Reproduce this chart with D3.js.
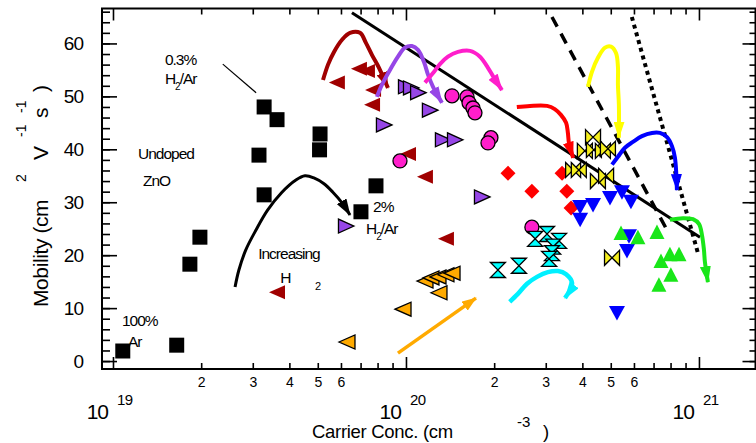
<!DOCTYPE html>
<html>
<head>
<meta charset="utf-8">
<script src="https://cdnjs.cloudflare.com/ajax/libs/d3/7.8.5/d3.min.js"></script>
<style>
  body { margin: 0; background: #fff; }
  svg { display: block; font-family: "Liberation Sans", Arial, sans-serif; }
</style>
</head>
<body>
<div id="chart"></div>
<script>
// Sample sets: [carrier concentration (cm^-3), mobility (cm^2 V^-1 s^-1)]
const undopedZnO = [[1.08e19, 1.9], [1.65e19, 3.0], [1.83e19, 18.3], [1.98e19, 23.4], [3.28e19, 31.4], [3.15e19, 38.9],
    [3.28e19, 48.0], [3.63e19, 45.6], [5.09e19, 42.9], [5.07e19, 39.9], [7.90e19, 33.1], [7.02e19, 28.2]];
const darkRedSet = [[5.81e19, 52.6], [6.91e19, 55.2], [7.36e19, 54.8], [7.72e19, 51.2], [7.66e19, 48.4], [1.016e20, 39.1],
    [1.161e20, 34.8], [1.369e20, 23.1], [3.63e19, 13.0]];
const purpleSet = [[1.00e20, 51.8], [1.04e20, 51.6], [1.10e20, 50.7], [1.207e20, 47.4], [8.41e19, 44.6], [1.337e20, 41.8],
    [1.47e20, 41.8], [1.817e20, 31.0], [6.24e19, 25.5]];
const magentaSet = [[1.436e20, 50.1], [1.616e20, 49.9], [1.641e20, 48.8], [1.693e20, 47.8], [1.72e20, 46.9], [1.95e20, 42.2],
    [1.905e20, 41.2], [9.54e19, 37.8], [2.69e20, 25.3]];
const redSet = [[2.23e20, 35.5], [2.69e20, 32.1], [3.41e20, 35.5], [3.54e20, 32.1], [3.66e20, 28.9]];
const yellowSet = [[4.35e20, 42.3], [4.08e20, 39.7], [4.38e20, 39.9], [4.70e20, 39.7], [4.89e20, 40.1], [3.72e20, 36.1],
    [3.89e20, 36.1], [4.52e20, 34.0], [4.82e20, 35.0], [5.05e20, 19.5]];
const blueSet = [[3.93e20, 29.1], [4.35e20, 29.5], [4.97e20, 30.8], [5.46e20, 31.9], [5.86e20, 30.1], [3.93e20, 26.7],
    [5.77e20, 23.6], [5.68e20, 20.8], [5.25e20, 9.1]];
const greenSet = [[5.42e20, 24.2], [6.19e20, 23.4], [7.19e20, 24.4], [7.42e20, 18.9], [7.96e20, 20.2], [8.55e20, 20.2],
    [8.02e20, 16.3], [7.30e20, 14.4]];
const cyanSet = [[2.06e20, 17.2], [2.43e20, 18.0], [2.76e20, 23.1], [3.03e20, 24.0], [3.33e20, 22.7], [3.18e20, 21.6],
    [3.15e20, 20.4], [3.08e20, 19.3]];
const orangeSet = [[6.29e19, 3.6], [9.77e19, 9.8], [1.161e20, 15.1], [1.217e20, 15.7], [1.286e20, 15.9], [1.369e20, 16.3],
    [1.436e20, 16.6], [1.296e20, 12.9]];

// Hand drawn trend arrows (increasing H2), same units
const arcBlack = [[2.61e19, 14.0], [2.69e19, 17.2], [2.84e19, 21.0], [3.08e19, 24.8], [3.37e19, 28.5], [3.76e19, 31.8],
    [4.21e19, 34.2], [4.52e19, 35.0], [4.85e19, 34.6], [5.25e19, 33.5], [5.63e19, 31.9], [6.05e19, 29.9], [6.44e19, 27.6]];
const arcDarkRed = [[5.21e19, 53.1], [5.42e19, 56.0], [5.68e19, 58.4], [6.05e19, 60.7], [6.44e19, 62.0], [6.97e19, 62.0],
    [7.30e19, 60.1], [7.66e19, 57.8], [8.09e19, 55.4], [8.68e19, 51.6]];
const arcPurple = [[7.96e19, 49.9], [8.28e19, 52.2], [8.82e19, 55.0], [9.39e19, 57.5], [9.92e19, 59.2], [1.048e20, 59.5],
    [1.099e20, 58.8], [1.152e20, 56.5], [1.189e20, 54.1], [1.237e20, 51.8], [1.327e20, 48.8]];
const arcMagenta = [[1.161e20, 52.6], [1.237e20, 54.4], [1.306e20, 56.1], [1.391e20, 57.5], [1.505e20, 58.4], [1.654e20, 58.6],
    [1.789e20, 57.5], [1.905e20, 55.4], [1.997e20, 53.5], [2.126e20, 51.2]];
const arcRed = [[2.39e20, 48.0], [2.65e20, 48.2], [3.03e20, 48.2], [3.22e20, 47.6], [3.38e20, 46.5], [3.52e20, 45.0],
    [3.57e20, 43.1], [3.60e20, 41.2], [3.72e20, 38.4]];
const arcYellow = [[4.18e20, 51.8], [4.31e20, 54.6], [4.52e20, 57.3], [4.78e20, 59.2], [5.01e20, 59.4], [5.21e20, 58.2],
    [5.29e20, 55.6], [5.29e20, 52.2], [5.33e20, 48.4], [5.33e20, 42.2]];
const arcBlue = [[5.05e20, 37.1], [5.29e20, 38.6], [5.59e20, 40.3], [5.95e20, 41.4], [6.39e20, 42.5], [6.91e20, 43.1],
    [7.36e20, 43.1], [7.78e20, 42.3], [8.09e20, 40.6], [8.28e20, 38.4], [8.41e20, 32.3]];
const arcGreen = [[7.96e20, 26.7], [8.82e20, 27.0], [9.54e20, 26.8], [1.0e21, 25.9], [1.024e21, 23.8], [1.040e21, 21.0],
    [1.048e21, 18.7], [1.073e21, 14.9]];
const arcCyan = [[2.26e20, 11.2], [2.41e20, 12.7], [2.59e20, 14.6], [2.80e20, 15.9], [3.05e20, 16.8], [3.30e20, 17.0],
    [3.52e20, 16.4], [3.69e20, 14.7], [3.49e20, 11.9]];
const arrowOrange = [[9.39e19, 1.5], [1.733e20, 11.9]];

// Straight guide lines
const lineSolid = [[6.54e19, 65.8], [1.008e21, 23.4]];
const lineDashed = [[3.15e20, 65.0], [7.84e20, 24.4]];
const lineDotted = [[5.90e20, 65.0], [9.92e20, 20.4]];
const pointerLine = [[2.37e19, 56.1], [3.08e19, 50.7]];

// Axis ticks
const yMajorTicks = [0, 10, 20, 30, 40, 50, 60];
const yMinorTicks = d3.range(0, 67, 2);
const xMajorTicks = [1e19, 1e20, 1e21];
const xExponents = ['19', '20', '21'];
const xMinorMultipliers = [2, 3, 4, 5, 6, 7, 8, 9];
const xLabelledMultipliers = [2, 3, 4, 5, 6];

function init_chart() {
    const width = 756;
    const height = 443;
    const left = 102, right = 755.5, top = 8.5, bottom = 369;

    const x = d3.scaleLog()
        .domain([Math.pow(10, 18.9625), Math.pow(10, 21.193)])
        .range([left, right]);
    const y = d3.scaleLinear()
        .domain([-1.5, 66.6])
        .range([bottom, top]);

    const svg = d3.select('#chart').append('svg')
        .attr('width', width)
        .attr('height', height);

    // Arrow heads, one per colour
    const defs = svg.append('defs');
    function arrowHead(id, color, len, wid) {
        defs.append('marker')
            .attr('id', id)
            .attr('markerUnits', 'userSpaceOnUse')
            .attr('markerWidth', len)
            .attr('markerHeight', wid)
            .attr('refX', len - 1)
            .attr('refY', wid / 2)
            .attr('orient', 'auto')
            .append('path')
            .attr('d', `M0,0L${len},${wid / 2}L0,${wid}Z`)
            .attr('fill', color);
    }

    // Minor x ticks for every decade in view
    const xMinor = [];
    xMajorTicks.forEach(dec => xMinorMultipliers.forEach(m => {
        const v = m * dec;
        if (v < x.domain()[1]) xMinor.push(v);
    }));
    const multiplier = d => Math.round(d / Math.pow(10, Math.floor(Math.log10(d) + 1e-9)));

    // Bottom axis
    svg.append('g')
        .attr('transform', `translate(0, ${bottom})`)
        .call(d3.axisBottom(x).tickValues(xMinor).tickSize(-6).tickPadding(8)
            .tickFormat(d => xLabelledMultipliers.includes(multiplier(d)) ? multiplier(d) : ''));
    svg.append('g')
        .attr('transform', `translate(0, ${bottom})`)
        .call(d3.axisBottom(x).tickValues(xMajorTicks).tickSize(-12).tickFormat(''));
    // Top axis
    svg.append('g')
        .attr('transform', `translate(0, ${top})`)
        .call(d3.axisTop(x).tickValues(xMinor).tickSize(-6).tickFormat(''));
    svg.append('g')
        .attr('transform', `translate(0, ${top})`)
        .call(d3.axisTop(x).tickValues(xMajorTicks).tickSize(-12).tickFormat(''));
    // Left axis
    svg.append('g')
        .attr('transform', `translate(${left}, 0)`)
        .call(d3.axisLeft(y).tickValues(yMinorTicks).tickSize(-8).tickFormat(''));
    svg.append('g')
        .attr('class', 'ylab')
        .attr('transform', `translate(${left}, 0)`)
        .call(d3.axisLeft(y).tickValues(yMajorTicks).tickSize(-15).tickPadding(19));
    // Right axis
    svg.append('g')
        .attr('transform', `translate(${right}, 0)`)
        .call(d3.axisRight(y).tickValues(yMinorTicks).tickSize(-6).tickFormat(''));
    svg.append('g')
        .attr('transform', `translate(${right}, 0)`)
        .call(d3.axisRight(y).tickValues(yMajorTicks).tickSize(-13).tickFormat(''));

    svg.selectAll('.domain').remove();
    svg.selectAll('.tick line').attr('stroke', '#000').attr('stroke-width', 1.6);
    svg.selectAll('.tick text')
        .attr('fill', '#000')
        .style('font-family', '"Liberation Sans", Arial, sans-serif')
        .style('font-size', '14px');
    svg.selectAll('.ylab .tick text')
        .style('font-size', '19px')
        .style('letter-spacing', '-1px');

    // Frame
    svg.append('rect')
        .attr('x', left).attr('y', top)
        .attr('width', right - left).attr('height', bottom - top)
        .attr('fill', 'none').attr('stroke', '#000').attr('stroke-width', 2);

    // Decade labels 10^19, 10^20, 10^21
    xMajorTicks.forEach((v, i) => {
        svg.append('text')
            .attr('x', x(v) - 5).attr('y', 419)
            .attr('text-anchor', 'end')
            .style('font-size', '21px').style('letter-spacing', '-1px')
            .text('10');
        svg.append('text')
            .attr('x', x(v) + 4).attr('y', 405)
            .style('font-size', '15px').style('letter-spacing', '-0.5px')
            .text(xExponents[i]);
    });

    // Axis titles
    svg.append('text').attr('x', 312).attr('y', 438)
        .style('font-size', '18.5px').style('letter-spacing', '-0.3px')
        .text('Carrier Conc. (cm');
    svg.append('text').attr('x', 517).attr('y', 427)
        .style('font-size', '15px').text('-3');
    svg.append('text').attr('x', 543).attr('y', 438)
        .style('font-size', '18.5px').text(')');

    const yTitle = [
        { t: 'Mobility (cm', at: 307, sup: false },
        { t: '2', at: 182, sup: true },
        { t: 'V', at: 160, sup: false },
        { t: '-1', at: 137, sup: true },
        { t: 's', at: 118, sup: false },
        { t: '-1', at: 113, sup: true },
        { t: ')', at: 92, sup: false }
    ];
    yTitle.forEach(p => {
        svg.append('text')
            .attr('transform', `translate(${p.sup ? 26 : 48}, ${p.at}) rotate(-90)`)
            .style('font-size', p.sup ? '14px' : '21px')
            .style('letter-spacing', p.sup ? '0px' : '-0.4px')
            .text(p.t);
    });

    const line = d3.line().x(d => x(d[0])).y(d => y(d[1]));
    const curve = d3.line().x(d => x(d[0])).y(d => y(d[1])).curve(d3.curveCatmullRom.alpha(0.5));

    // Guide lines
    svg.append('path').attr('d', line(lineSolid))
        .attr('fill', 'none').attr('stroke', '#000').attr('stroke-width', 3);
    svg.append('path').attr('d', line(lineDashed))
        .attr('fill', 'none').attr('stroke', '#000').attr('stroke-width', 3.5)
        .attr('stroke-dasharray', '11,8');
    svg.append('path').attr('d', line(lineDotted))
        .attr('fill', 'none').attr('stroke', '#000').attr('stroke-width', 4)
        .attr('stroke-dasharray', '4,4');
    svg.append('path').attr('d', line(pointerLine))
        .attr('fill', 'none').attr('stroke', '#000').attr('stroke-width', 1.2);

    // Marker shapes, centred on the data point
    const shapes = {
        square: 'M-7.5,-7.5h15v15h-15Z',
        triLeft: 'M-8,0L8,-7L8,7Z',
        triRight: 'M8,0L-7.5,-7L-7.5,7Z',
        triDown: 'M-8,-7L8,-7L0,7.5Z',
        triUp: 'M-7.5,7L7.5,7L0,-7.5Z',
        diamond: 'M0,-7.5L7.5,0L0,7.5L-7.5,0Z',
        bowtie: 'M-7.5,-7.5L7.5,7.5L7.5,-7.5L-7.5,7.5Z',
        hourglass: 'M-7.5,-7.5L7.5,-7.5L-7.5,7.5L7.5,7.5Z',
        circle: 'M-7,0a7,7 0 1,0 14,0a7,7 0 1,0 -14,0Z'
    };

    const series = [
        { data: undopedZnO, shape: 'square', fill: '#000000', stroke: 'none' },
        { data: darkRedSet, shape: 'triLeft', fill: '#A00000', stroke: 'none' },
        { data: purpleSet, shape: 'triRight', fill: '#9646E6', stroke: '#000' },
        { data: magentaSet, shape: 'circle', fill: '#FF1ECB', stroke: '#000' },
        { data: redSet, shape: 'diamond', fill: '#FF0000', stroke: 'none' },
        { data: yellowSet, shape: 'bowtie', fill: '#F5EE1E', stroke: '#000' },
        { data: blueSet, shape: 'triDown', fill: '#0000FF', stroke: 'none' },
        { data: greenSet, shape: 'triUp', fill: '#19E619', stroke: 'none' },
        { data: cyanSet, shape: 'hourglass', fill: '#00FFFF', stroke: '#000' },
        { data: orangeSet, shape: 'triLeft', fill: '#FFAA00', stroke: '#000' }
    ];

    series.forEach(s => {
        svg.append('g').selectAll('path')
            .data(s.data)
            .enter().append('path')
            .attr('transform', d => `translate(${x(d[0])}, ${y(d[1])})`)
            .attr('d', shapes[s.shape])
            .attr('fill', s.fill)
            .attr('stroke', s.stroke)
            .attr('stroke-width', 1.3)
            .attr('stroke-linejoin', 'miter');
    });

    // Trend arrows
    const arcs = [
        { pts: arcBlack, color: '#000000', w: 3 },
        { pts: arcDarkRed, color: '#A00000', w: 4 },
        { pts: arcPurple, color: '#9646E6', w: 4 },
        { pts: arcMagenta, color: '#FF1ECB', w: 4 },
        { pts: arcRed, color: '#FF0000', w: 4 },
        { pts: arcYellow, color: '#FFFF00', w: 4 },
        { pts: arcBlue, color: '#0000FF', w: 4 },
        { pts: arcGreen, color: '#19E619', w: 4 },
        { pts: arcCyan, color: '#00F0FF', w: 4.5 }
    ];
    arcs.forEach((a, i) => {
        arrowHead('head' + i, a.color, 17, 11);
        svg.append('path')
            .attr('d', curve(a.pts))
            .attr('fill', 'none')
            .attr('stroke', a.color)
            .attr('stroke-width', a.w)
            .attr('stroke-linejoin', 'round')
            .attr('marker-end', `url(#head${i})`);
    });
    arrowHead('headOrange', '#FFAA00', 15, 11);
    svg.append('path')
        .attr('d', line(arrowOrange))
        .attr('fill', 'none')
        .attr('stroke', '#FFAA00')
        .attr('stroke-width', 3.5)
        .attr('marker-end', 'url(#headOrange)');

    // Annotations, placed in data units
    const notes = [
        { at: [1.504e19, 56.0], parts: [['0.3%', 0]] },
        { at: [1.504e19, 52.4], parts: [['H', 0], ['2', 1], ['/Ar', 0]] },
        { at: [1.217e19, 38.2], parts: [['Undoped', 0]] },
        { at: [1.266e19, 33.1], parts: [['ZnO', 0]] },
        { at: [1.073e19, 6.6], parts: [['100%', 0]] },
        { at: [1.125e19, 2.6], parts: [['Ar', 0]] },
        { at: [3.13e19, 19.3], parts: [['Increasing', 0]] },
        { at: [3.72e19, 14.7], parts: [['H', 0]] },
        { at: [4.89e19, 13.4], parts: [['2', 2]] },
        { at: [7.72e19, 28.2], parts: [['2%', 0]] },
        { at: [7.30e19, 24.0], parts: [['H', 0], ['2', 1], ['/Ar', 0]] }
    ];
    notes.forEach(n => {
        const t = svg.append('text')
            .attr('x', x(n.at[0]))
            .attr('y', y(n.at[1]))
            .style('font-size', '15.5px')
            .style('letter-spacing', '-1px');
        let shifted = false;
        n.parts.forEach(p => {
            const sp = t.append('tspan').text(p[0]);
            if (p[1] === 1) {
                sp.style('font-size', '10px').attr('dy', 6);
                shifted = true;
            } else if (p[1] === 2) {
                sp.style('font-size', '11px');
            } else if (shifted) {
                sp.attr('dy', -6);
                shifted = false;
            }
        });
    });
}

init_chart();
</script>
</body>
</html>
